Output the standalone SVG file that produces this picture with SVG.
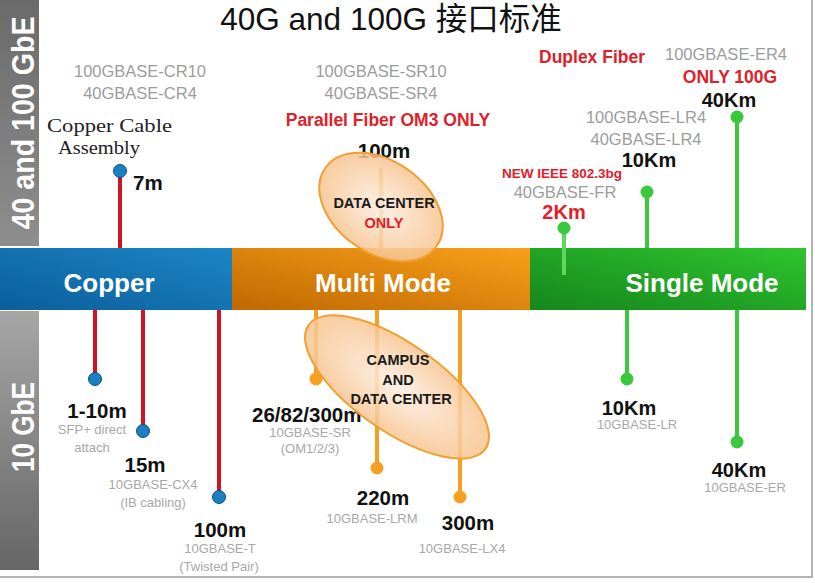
<svg xmlns="http://www.w3.org/2000/svg" width="815" height="583" viewBox="0 0 815 583">
<defs>
<linearGradient id="gBandTop" x1="0" y1="0" x2="0" y2="1"><stop offset="0" stop-color="#6a6a6a"/><stop offset="1" stop-color="#8e8e8e"/></linearGradient>
<linearGradient id="gBandBot" x1="0" y1="0" x2="0" y2="1"><stop offset="0" stop-color="#a6a6a6"/><stop offset="1" stop-color="#666"/></linearGradient>
<linearGradient id="gCopper" x1="0" y1="1" x2="1" y2="0"><stop offset="0" stop-color="#0b5e9a"/><stop offset="1" stop-color="#1c86c6"/></linearGradient>
<linearGradient id="gMulti" x1="0" y1="1" x2="1" y2="0"><stop offset="0" stop-color="#c06800"/><stop offset="1" stop-color="#f8a01a"/></linearGradient>
<linearGradient id="gSingle" x1="0" y1="1" x2="1" y2="0"><stop offset="0" stop-color="#16861c"/><stop offset="1" stop-color="#2fc52f"/></linearGradient>
<radialGradient id="gEll" cx="0.5" cy="0.5" r="0.5"><stop offset="0" stop-color="#fdeee2"/><stop offset="1" stop-color="#f7c490"/></radialGradient>
<style>
text{font-family:"Liberation Sans",Arial,sans-serif}
.gray{fill:#9c9c9c;font-size:16.5px;text-anchor:middle}
.sgray{fill:#a8a8a8;font-size:13px;text-anchor:middle}
.red{fill:#e0202a;font-size:17.5px;font-weight:bold;text-anchor:middle}
.dist{fill:#111;font-size:20.5px;font-weight:bold;text-anchor:middle}
.bar{fill:#fff;font-size:26px;font-weight:bold;text-anchor:middle}
.ell{fill:url(#gEll);fill-opacity:0.85;stroke:#f0a030;stroke-width:2}
.etxt{fill:#1a1a1a;font-size:14.5px;font-weight:bold;text-anchor:middle}
.band{fill:#fff;font-weight:bold;text-anchor:middle}
.serif{font-family:"Liberation Serif","Times New Roman",serif;font-size:18px;fill:#222}
.lr{stroke:#cc1422;stroke-width:4}
.lo{stroke:#f5a020;stroke-width:4}
.lg{stroke:#3cc83c;stroke-width:4}
.db{fill:#1a80c2;stroke:#0f4f82;stroke-width:1}
.do{fill:#f5a020}
.dg{fill:#3cc83c}
</style>
</defs>
<rect x="0" y="0" width="815" height="583" fill="#fff"/>
<rect x="-2" y="-2" width="814" height="579" fill="none" stroke="#9a9a9a" stroke-width="1.5"/>

<g id="bands">
<rect x="0" y="0" width="39" height="246" fill="url(#gBandTop)"/>
<rect x="0" y="311" width="39" height="259" fill="url(#gBandBot)"/>
<text class="band" style="font-size:31px" textLength="213" lengthAdjust="spacingAndGlyphs" transform="translate(34,123) rotate(-90)">40 and 100 GbE</text>
<text class="band" style="font-size:31px" textLength="90" lengthAdjust="spacingAndGlyphs" transform="translate(34,427) rotate(-90)">10 GbE</text>
</g>

<g id="title">
<text x="391" y="30" font-size="31.5" fill="#111" text-anchor="middle" style="font-family:'Liberation Sans','Noto Sans CJK SC',sans-serif">40G and 100G 接口标准</text>
</g>

<g id="bar">
<rect x="0" y="248" width="232" height="62" fill="url(#gCopper)"/>
<rect x="232" y="248" width="298" height="62" fill="url(#gMulti)"/>
<rect x="530" y="248" width="276" height="62" fill="url(#gSingle)"/>
<text class="bar" x="109" y="292">Copper</text>
<text class="bar" x="383" y="292">Multi Mode</text>
<text class="bar" x="702" y="292">Single Mode</text>
</g>

<g id="connectors">
<line class="lr" x1="120" y1="171" x2="120" y2="248"/>
<line class="lo" x1="381" y1="168" x2="381" y2="248"/>
<line class="lg" x1="564" y1="228" x2="564" y2="275" style="stroke:#5cd85c"/>
<line class="lg" x1="647" y1="192" x2="647" y2="248"/>
<line class="lg" x1="737" y1="117" x2="737" y2="248"/>
<line class="lr" x1="95" y1="310" x2="95" y2="379"/>
<line class="lr" x1="143" y1="310" x2="143" y2="431"/>
<line class="lr" x1="219" y1="310" x2="219" y2="497"/>
<line class="lo" x1="316" y1="310" x2="316" y2="379"/>
<line class="lo" x1="377" y1="310" x2="377" y2="468"/>
<line class="lo" x1="460" y1="310" x2="460" y2="497"/>
<line class="lg" x1="627" y1="310" x2="627" y2="379"/>
<line class="lg" x1="737" y1="310" x2="737" y2="442"/>
</g>

<g id="dots">
<circle class="db" cx="120" cy="171" r="6.5"/>
<circle class="dg" cx="564" cy="228" r="6.5"/>
<circle class="dg" cx="647" cy="192" r="6.5"/>
<circle class="dg" cx="737" cy="117" r="6.5"/>
<circle class="db" cx="95" cy="379" r="6.5"/>
<circle class="db" cx="143" cy="431" r="6.5"/>
<circle class="db" cx="219" cy="497" r="6.5"/>
<circle class="do" cx="316" cy="379" r="6.5"/>
<circle class="do" cx="377" cy="468" r="6.5"/>
<circle class="do" cx="460" cy="497" r="6.5"/>
<circle class="dg" cx="627" cy="379" r="6.5"/>
<circle class="dg" cx="737" cy="442" r="6.5"/>
</g>

<g id="copper-top">
<text class="gray" x="140" y="77">100GBASE-CR10</text>
<text class="gray" x="140" y="99">40GBASE-CR4</text>
<text class="serif" x="47" y="132" textLength="125" lengthAdjust="spacingAndGlyphs">Copper Cable</text>
<text class="serif" x="58" y="154" textLength="82" lengthAdjust="spacingAndGlyphs">Assembly</text>
<text class="dist" x="133" y="190" style="text-anchor:start">7m</text>
</g>

<g id="multi-top">
<text class="gray" x="381" y="77">100GBASE-SR10</text>
<text class="gray" x="381" y="99">40GBASE-SR4</text>
<text class="red" x="388" y="126">Parallel Fiber OM3 ONLY</text>
<text class="dist" x="384" y="158">100m</text>
<ellipse class="ell" cx="381" cy="207" rx="68" ry="46" transform="rotate(35 381 207)"/>
<text class="etxt" x="384" y="208">DATA CENTER</text>
<text class="etxt" x="384" y="228" style="fill:#e0202a">ONLY</text>
</g>

<g id="single-top">
<text class="red" x="592" y="63">Duplex Fiber</text>
<text class="gray" x="726" y="60">100GBASE-ER4</text>
<text class="red" x="730" y="83">ONLY 100G</text>
<text class="dist" x="729" y="107" style="font-size:20px">40Km</text>
<text class="gray" x="646" y="123">100GBASE-LR4</text>
<text class="gray" x="646" y="145">40GBASE-LR4</text>
<text class="dist" x="649" y="167" style="font-size:20px">10Km</text>
<text class="red" x="562" y="178" style="font-size:13.5px">NEW IEEE 802.3bg</text>
<text class="gray" x="565" y="198">40GBASE-FR</text>
<text class="red" x="564" y="219" style="font-size:20px">2Km</text>
</g>

<g id="copper-bottom">
<text class="dist" x="97" y="418">1-10m</text>
<text class="sgray" x="92" y="434">SFP+ direct</text>
<text class="sgray" x="92" y="452">attach</text>
<text class="dist" x="145" y="472">15m</text>
<text class="sgray" x="153" y="489">10GBASE-CX4</text>
<text class="sgray" x="153" y="507">(IB cabling)</text>
<text class="dist" x="220" y="537">100m</text>
<text class="sgray" x="220" y="553">10GBASE-T</text>
<text class="sgray" x="219" y="571">(Twisted Pair)</text>
</g>

<g id="multi-bottom">
<text class="dist" x="252" y="422" style="text-anchor:start">26/82/300m</text>
<text class="sgray" x="310" y="437">10GBASE-SR</text>
<text class="sgray" x="310" y="453">(OM1/2/3)</text>
<ellipse class="ell" cx="397" cy="387" rx="108" ry="44" transform="rotate(35 397 387)"/>
<text class="etxt" x="398" y="365">CAMPUS</text>
<text class="etxt" x="398" y="385">AND</text>
<text class="etxt" x="401" y="404">DATA CENTER</text>
<text class="dist" x="383" y="505">220m</text>
<text class="sgray" x="372" y="523">10GBASE-LRM</text>
<text class="dist" x="468" y="530">300m</text>
<text class="sgray" x="462" y="553">10GBASE-LX4</text>
</g>

<g id="single-bottom">
<text class="dist" x="629" y="415" style="font-size:20px">10Km</text>
<text class="sgray" x="637" y="429">10GBASE-LR</text>
<text class="dist" x="739" y="477" style="font-size:20px">40Km</text>
<text class="sgray" x="745" y="492">10GBASE-ER</text>
</g>
</svg>
